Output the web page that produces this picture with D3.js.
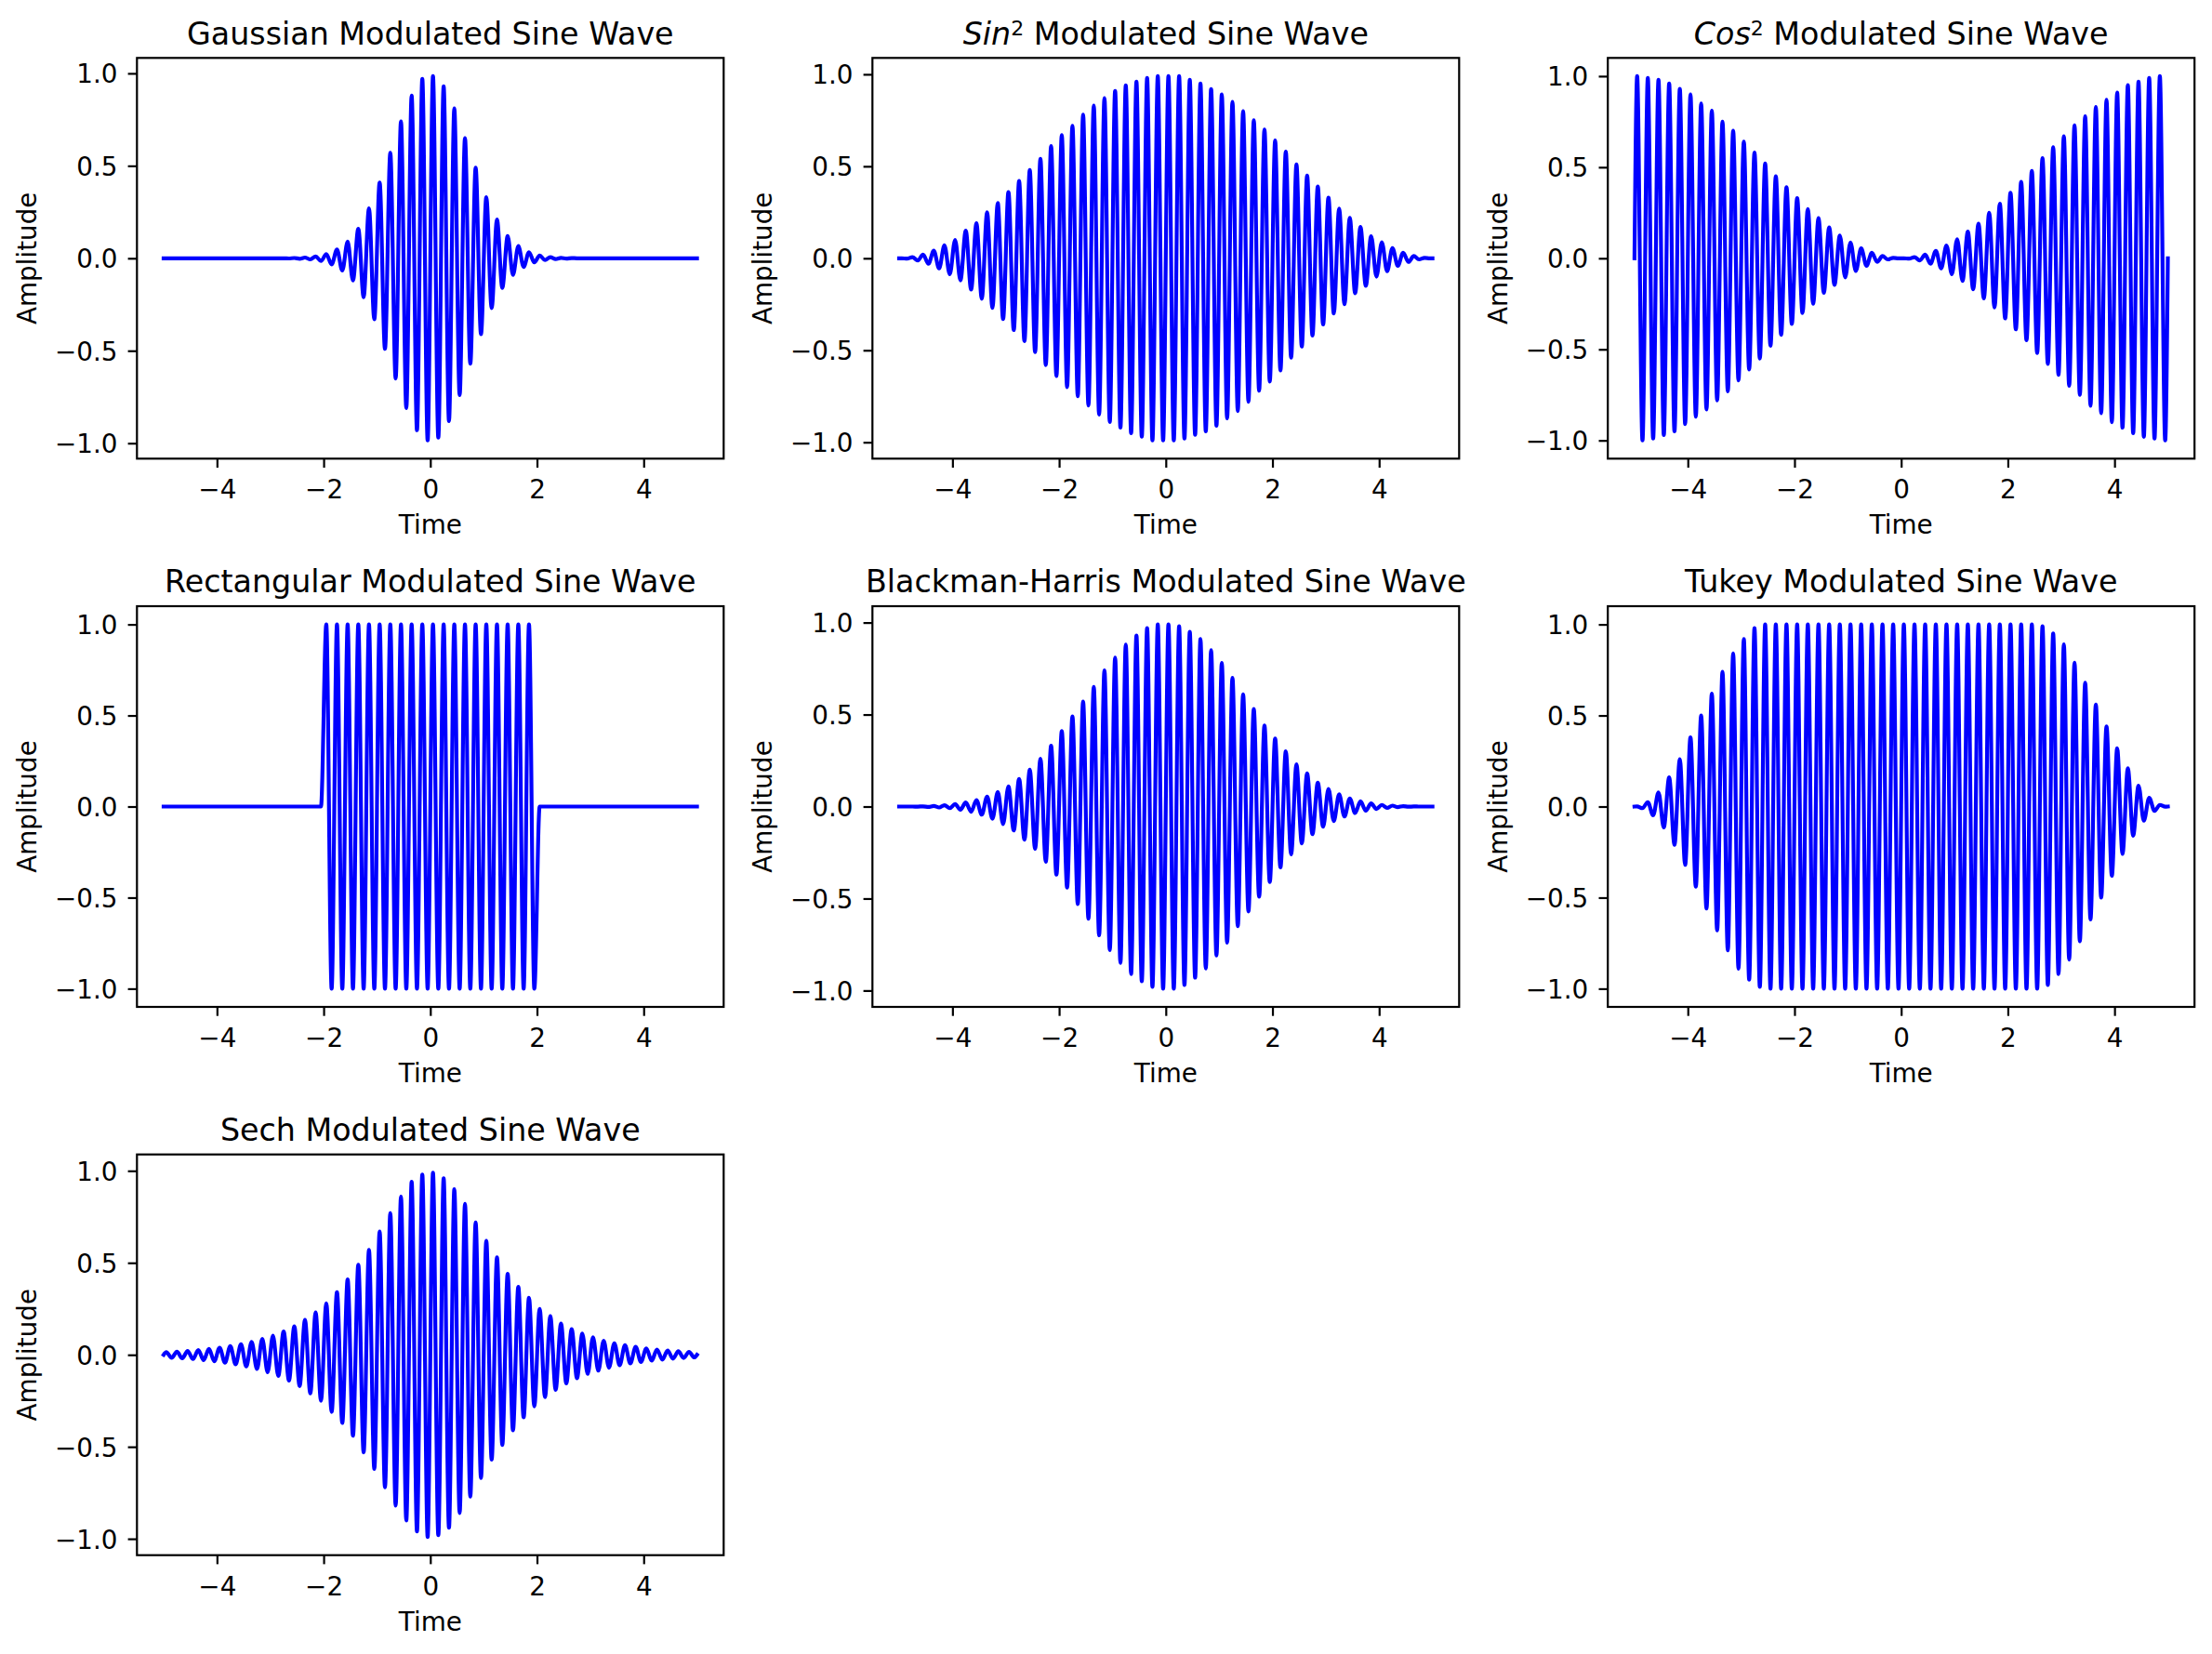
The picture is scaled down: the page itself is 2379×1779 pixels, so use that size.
<!DOCTYPE html>
<html>
<head>
<meta charset="utf-8">
<script src="https://cdn.jsdelivr.net/npm/d3@7"></script>
<style>
  body { margin: 0; background: #fff; }
  svg { display: block; font-family: "DejaVu Sans", sans-serif; }
  .tick text { font-size: 27.8px; fill: #000; }
  .tick line { stroke: #000; stroke-width: 2.2; }
  .title { font-size: 33.3px; }
  .axis-label { font-size: 27.8px; }
</style>
</head>
<body>
<div id="chart"></div>
<script>
// extremum times of the carrier (one peak or trough every 0.1 s)
const peakTimes = [
  -4.95, -4.85, -4.75, -4.65, -4.55, -4.45, -4.35, -4.25, -4.15, -4.05,
  -3.95, -3.85, -3.75, -3.65, -3.55, -3.45, -3.35, -3.25, -3.15, -3.05,
  -2.95, -2.85, -2.75, -2.65, -2.55, -2.45, -2.35, -2.25, -2.15, -2.05,
  -1.95, -1.85, -1.75, -1.65, -1.55, -1.45, -1.35, -1.25, -1.15, -1.05,
  -0.95, -0.85, -0.75, -0.65, -0.55, -0.45, -0.35, -0.25, -0.15, -0.05,
  0.05, 0.15, 0.25, 0.35, 0.45, 0.55, 0.65, 0.75, 0.85, 0.95,
  1.05, 1.15, 1.25, 1.35, 1.45, 1.55, 1.65, 1.75, 1.85, 1.95,
  2.05, 2.15, 2.25, 2.35, 2.45, 2.55, 2.65, 2.75, 2.85, 2.95,
  3.05, 3.15, 3.25, 3.35, 3.45, 3.55, 3.65, 3.75, 3.85, 3.95,
  4.05, 4.15, 4.25, 4.35, 4.45, 4.55, 4.65, 4.75, 4.85, 4.95,
];
// the signal is 0 at both ends of the time span
const timeSpan = [-5, 5];

// peak heights (sign alternates, first one positive)
const gaussianPeaks = [
  0, 0, 0, 0, 0, 0, 0, 0, 0, 0,
  0, 0, 0, 0, 0, 0, 0, 0, 0, 0,
  0, 0, 0, 0.001, 0.0015, 0.0025, 0.004, 0.006, 0.01, 0.015,
  0.022, 0.033, 0.047, 0.066, 0.09, 0.12, 0.16, 0.21, 0.27, 0.33,
  0.41, 0.49, 0.57, 0.65, 0.74, 0.81, 0.88, 0.93, 0.97, 0.985,
  0.985, 0.97, 0.93, 0.88, 0.81, 0.74, 0.65, 0.57, 0.49, 0.41,
  0.33, 0.27, 0.21, 0.16, 0.12, 0.09, 0.066, 0.047, 0.033, 0.022,
  0.015, 0.01, 0.006, 0.004, 0.0025, 0.0015, 0.001, 0, 0, 0,
  0, 0, 0, 0, 0, 0, 0, 0, 0, 0,
  0, 0, 0, 0, 0, 0, 0, 0, 0, 0,
];
const sin2Peaks = [
  0, 0.002, 0.006, 0.012, 0.02, 0.03, 0.041, 0.055, 0.07, 0.087,
  0.10, 0.12, 0.15, 0.17, 0.19, 0.22, 0.25, 0.27, 0.30, 0.33,
  0.36, 0.39, 0.42, 0.45, 0.48, 0.51, 0.54, 0.58, 0.61, 0.64,
  0.67, 0.70, 0.72, 0.75, 0.78, 0.80, 0.83, 0.85, 0.87, 0.89,
  0.91, 0.92, 0.94, 0.95, 0.96, 0.97, 0.98, 0.99, 0.99, 0.99,
  0.99, 0.99, 0.99, 0.98, 0.97, 0.96, 0.95, 0.94, 0.92, 0.91,
  0.89, 0.87, 0.85, 0.83, 0.80, 0.78, 0.75, 0.72, 0.70, 0.67,
  0.64, 0.61, 0.58, 0.54, 0.51, 0.48, 0.45, 0.42, 0.39, 0.36,
  0.33, 0.30, 0.27, 0.25, 0.22, 0.19, 0.17, 0.15, 0.12, 0.10,
  0.087, 0.07, 0.055, 0.041, 0.03, 0.02, 0.012, 0.006, 0.002, 0,
];
const cos2Peaks = [
  1.0, 1.0, 0.99, 0.99, 0.98, 0.97, 0.96, 0.95, 0.93, 0.91,
  0.90, 0.87, 0.85, 0.83, 0.81, 0.78, 0.75, 0.73, 0.70, 0.67,
  0.64, 0.61, 0.58, 0.55, 0.52, 0.48, 0.45, 0.42, 0.39, 0.36,
  0.33, 0.30, 0.27, 0.25, 0.22, 0.19, 0.17, 0.146, 0.125, 0.105,
  0.087, 0.07, 0.055, 0.041, 0.03, 0.02, 0.012, 0.006, 0.002, 0,
  0, 0.002, 0.006, 0.012, 0.02, 0.03, 0.041, 0.055, 0.07, 0.087,
  0.105, 0.125, 0.146, 0.17, 0.19, 0.22, 0.25, 0.27, 0.30, 0.33,
  0.36, 0.39, 0.42, 0.45, 0.48, 0.52, 0.55, 0.58, 0.61, 0.64,
  0.67, 0.70, 0.73, 0.75, 0.78, 0.81, 0.83, 0.85, 0.87, 0.90,
  0.91, 0.93, 0.95, 0.96, 0.97, 0.98, 0.99, 0.99, 1.0, 1.0,
];
const rectPeaks = [
  0, 0, 0, 0, 0, 0, 0, 0, 0, 0,
  0, 0, 0, 0, 0, 0, 0, 0, 0, 0,
  0, 0, 0, 0, 0, 0, 0, 0, 0, 0,
  1, 1, 1, 1, 1, 1, 1, 1, 1, 1,
  1, 1, 1, 1, 1, 1, 1, 1, 1, 1,
  1, 1, 1, 1, 1, 1, 1, 1, 1, 1,
  1, 1, 1, 1, 1, 1, 1, 1, 1, 1,
  0, 0, 0, 0, 0, 0, 0, 0, 0, 0,
  0, 0, 0, 0, 0, 0, 0, 0, 0, 0,
  0, 0, 0, 0, 0, 0, 0, 0, 0, 0,
];
const blackmanPeaks = [
  0, 0, 0, 0.0005, 0.001, 0.002, 0.003, 0.005, 0.007, 0.009,
  0.013, 0.017, 0.022, 0.028, 0.035, 0.044, 0.054, 0.066, 0.079, 0.095,
  0.11, 0.13, 0.15, 0.18, 0.20, 0.23, 0.26, 0.30, 0.33, 0.37,
  0.41, 0.44, 0.49, 0.53, 0.57, 0.61, 0.65, 0.70, 0.74, 0.78,
  0.81, 0.85, 0.88, 0.91, 0.93, 0.95, 0.97, 0.98, 0.99, 0.99,
  0.99, 0.99, 0.98, 0.97, 0.95, 0.93, 0.91, 0.88, 0.85, 0.81,
  0.78, 0.74, 0.70, 0.65, 0.61, 0.57, 0.53, 0.49, 0.44, 0.41,
  0.37, 0.33, 0.30, 0.26, 0.23, 0.20, 0.18, 0.15, 0.13, 0.11,
  0.095, 0.079, 0.066, 0.054, 0.044, 0.035, 0.028, 0.022, 0.017, 0.013,
  0.009, 0.007, 0.005, 0.003, 0.002, 0.001, 0.0005, 0, 0, 0,
];
const tukeyPeaks = [
  0.001, 0.009, 0.024, 0.048, 0.078, 0.115, 0.16, 0.21, 0.26, 0.32,
  0.38, 0.44, 0.50, 0.56, 0.62, 0.68, 0.74, 0.79, 0.84, 0.89,
  0.92, 0.95, 0.98, 0.99, 1, 1, 1, 1, 1, 1,
  1, 1, 1, 1, 1, 1, 1, 1, 1, 1,
  1, 1, 1, 1, 1, 1, 1, 1, 1, 1,
  1, 1, 1, 1, 1, 1, 1, 1, 1, 1,
  1, 1, 1, 1, 1, 1, 1, 1, 1, 1,
  1, 1, 1, 1, 1, 1, 0.99, 0.98, 0.95, 0.92,
  0.89, 0.84, 0.79, 0.74, 0.68, 0.62, 0.56, 0.50, 0.44, 0.38,
  0.32, 0.26, 0.21, 0.16, 0.115, 0.078, 0.048, 0.024, 0.009, 0.001,
];
const sechPeaks = [
  0.014, 0.016, 0.017, 0.019, 0.021, 0.023, 0.026, 0.029, 0.032, 0.035,
  0.039, 0.043, 0.047, 0.052, 0.057, 0.063, 0.07, 0.077, 0.086, 0.095,
  0.104, 0.115, 0.127, 0.14, 0.155, 0.17, 0.19, 0.21, 0.23, 0.25,
  0.28, 0.31, 0.34, 0.37, 0.41, 0.44, 0.49, 0.53, 0.57, 0.62,
  0.67, 0.72, 0.77, 0.82, 0.86, 0.90, 0.94, 0.96, 0.98, 0.99,
  0.99, 0.98, 0.96, 0.94, 0.90, 0.86, 0.82, 0.77, 0.72, 0.67,
  0.62, 0.57, 0.53, 0.49, 0.44, 0.41, 0.37, 0.34, 0.31, 0.28,
  0.25, 0.23, 0.21, 0.19, 0.17, 0.155, 0.14, 0.127, 0.115, 0.104,
  0.095, 0.086, 0.077, 0.07, 0.063, 0.057, 0.052, 0.047, 0.043, 0.039,
  0.035, 0.032, 0.029, 0.026, 0.023, 0.021, 0.019, 0.017, 0.016, 0.014,
];

const xTicks = [-4, -2, 0, 2, 4];
const yTicks = [-1, -0.5, 0, 0.5, 1];

const panels = [
  { title: ["Gaussian Modulated Sine Wave"], peaks: gaussianPeaks },
  { title: ["Sin", "2", " Modulated Sine Wave"], peaks: sin2Peaks },
  { title: ["Cos", "2", " Modulated Sine Wave"], peaks: cos2Peaks },
  { title: ["Rectangular Modulated Sine Wave"], peaks: rectPeaks },
  { title: ["Blackman-Harris Modulated Sine Wave"], peaks: blackmanPeaks },
  { title: ["Tukey Modulated Sine Wave"], peaks: tukeyPeaks },
  { title: ["Sech Modulated Sine Wave"], peaks: sechPeaks },
];

const width = 2379;
const height = 1779;
const colLeft = [147.3, 938.3, 1729.2];
const rowTop = [62.3, 652, 1241.7];
const panelW = 631;
const panelH = 431;
const tickLen = 9.7;

const svg = d3
  .select("#chart")
  .append("svg")
  .attr("width", width)
  .attr("height", height);

svg.append("rect").attr("width", width).attr("height", height).attr("fill", "#fff");

// matplotlib style autoscale: 5% margin on both sides
function padded([lo, hi]) {
  const m = (hi - lo) * 0.05;
  return [lo - m, hi + m];
}

panels.forEach((p, i) => {
  const left = colLeft[i % 3];
  const top = rowTop[Math.floor(i / 3)];

  const points = [[timeSpan[0], 0]]
    .concat(peakTimes.map((t, k) => [t, (k % 2 === 0 ? 1 : -1) * p.peaks[k]]))
    .concat([[timeSpan[1], 0]]);

  const x = d3.scaleLinear().domain(padded(timeSpan)).range([0, panelW]);
  const y = d3
    .scaleLinear()
    .domain(padded(d3.extent(points, (d) => d[1])))
    .range([panelH, 0]);

  const g = svg.append("g").attr("transform", `translate(${left},${top})`);

  const line = d3
    .line()
    .x((d) => x(d[0]))
    .y((d) => y(d[1]))
    .curve(d3.curveMonotoneX);

  g.append("path")
    .datum(points)
    .attr("d", line)
    .attr("fill", "none")
    .attr("stroke", "#0000ff")
    .attr("stroke-width", 4.17)
    .attr("stroke-linejoin", "round")
    .attr("stroke-linecap", "square");

  const gx = g
    .append("g")
    .attr("transform", `translate(0,${panelH})`)
    .call(
      d3.axisBottom(x).tickValues(xTicks).tickSize(tickLen).tickPadding(tickLen).tickFormat(d3.format("d"))
    );
  gx.select(".domain").remove();
  gx.selectAll(".tick text").attr("y", 19.4).attr("dy", "23.5px");

  const gy = g
    .append("g")
    .call(
      d3.axisLeft(y).tickValues(yTicks).tickSize(tickLen).tickPadding(tickLen + 1.5).tickFormat(d3.format(".1f"))
    );
  gy.select(".domain").remove();
  gy.selectAll(".tick text").attr("dy", "0.36em");
  gx.attr("font-size", null).attr("font-family", null);
  gy.attr("font-size", null).attr("font-family", null);

  // spines on top of the line
  g.append("rect")
    .attr("width", panelW)
    .attr("height", panelH)
    .attr("fill", "none")
    .attr("stroke", "#000")
    .attr("stroke-width", 2.2);

  const title = g
    .append("text")
    .attr("class", "title")
    .attr("x", panelW / 2)
    .attr("y", -14.6)
    .attr("text-anchor", "middle");
  if (p.title.length === 1) {
    title.text(p.title[0]);
  } else {
    title.append("tspan").attr("font-style", "italic").text(p.title[0]);
    title.append("tspan").attr("dy", -9.5).attr("font-size", "22px").text(p.title[1]);
    title.append("tspan").attr("dy", 9.5).text(p.title[2]);
  }

  g.append("text")
    .attr("class", "axis-label")
    .attr("x", panelW / 2)
    .attr("y", panelH + 81)
    .attr("text-anchor", "middle")
    .text("Time");

  g.append("text")
    .attr("class", "axis-label")
    .attr("transform", `translate(-108.5,${panelH / 2}) rotate(-90)`)
    .attr("text-anchor", "middle")
    .text("Amplitude");
});
</script>
</body>
</html>
